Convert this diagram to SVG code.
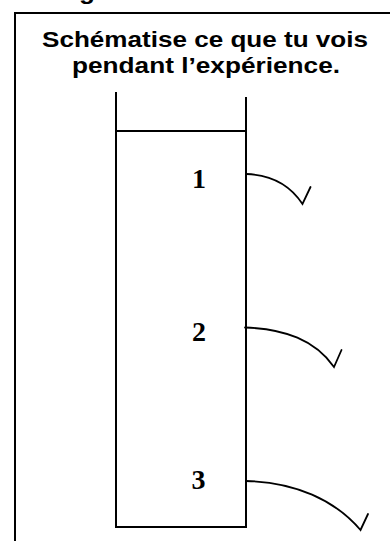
<svg xmlns="http://www.w3.org/2000/svg" width="390" height="541" viewBox="0 0 390 541">
<style>
.title{font-family:"Liberation Sans",Arial,sans-serif;font-weight:bold;font-size:22px;fill:#000}
.num{font-family:"Liberation Serif","Times New Roman",serif;font-weight:bold;font-size:28px;fill:#000;text-anchor:middle}
.ln{stroke:#000;stroke-width:2;fill:none}
.cv{stroke:#000;stroke-width:1.8;fill:none;stroke-linejoin:miter;stroke-linecap:round}
</style>
<rect width="390" height="541" fill="#fff"/>
<text class="title" x="79" y="-1.5" textLength="16" lengthAdjust="spacingAndGlyphs">g</text>
<g id="frame">
<path class="ln" d="M15,541 V13 H392"/>
</g>
<g id="title">
<text class="title" x="42" y="46.5" textLength="326" lengthAdjust="spacingAndGlyphs">Schématise ce que tu vois</text>
<text class="title" x="72" y="72.5" textLength="268" lengthAdjust="spacingAndGlyphs">pendant l’expérience.</text>
</g>
<g id="beaker">
<path class="ln" d="M116,92 V527 H247"/>
<path class="ln" d="M246,97 V527"/>
<path class="ln" d="M116,131 H246"/>
</g>
<g id="label1"><text class="num" x="199" y="188">1</text></g>
<g id="label2"><text class="num" x="199" y="341">2</text></g>
<g id="label3"><text class="num" x="198.5" y="489">3</text></g>
<g id="connectors">
<path class="cv" d="M246.5,174 C275,175 292,188 302.5,204 L310.5,187"/>
<path class="cv" d="M245,327.5 C285,329 315,340 334,367 L341.5,350"/>
<path class="cv" d="M246,481 C295,482 335,500 360.5,530 L368,514"/>
</g>
</svg>
